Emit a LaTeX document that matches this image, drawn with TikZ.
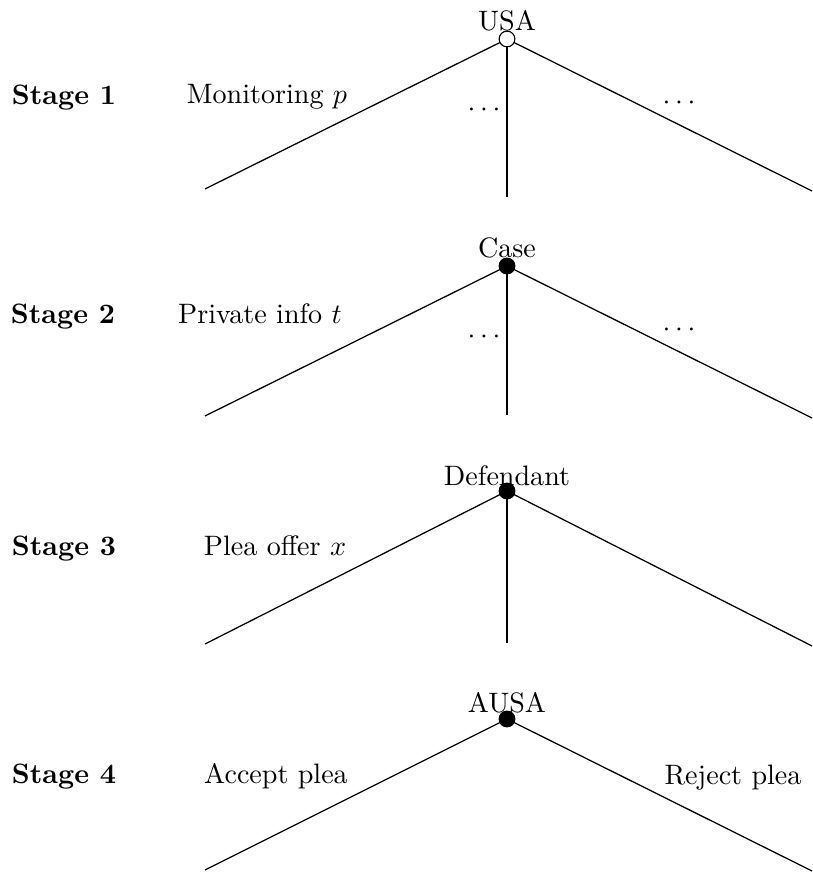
\documentclass[tikz,border=0pt]{standalone}
\begin{document}
\begin{tikzpicture}[x=0.356pt,y=-0.356pt,
  vtx/.style={circle,draw=black,fill=black,inner sep=0pt,minimum size=5.6pt,line width=0.4pt},
  openvtx/.style={vtx,fill=white},
  edge/.style={line width=0.45pt},
  stem/.style={line width=0.85pt},
  lbl/.style={anchor=base,inner sep=0pt},
  stagelbl/.style={anchor=base,inner sep=0pt,font=\bfseries}]
\useasboundingbox (0,0) rectangle (812,872);
% Stage 1
\coordinate (l1) at (205,189);
\coordinate (r1) at (812,191);
\coordinate (m1) at (507,197);
\draw[edge] (507,39) -- (l1);
\draw[edge] (507,39) -- (r1);
\draw[stem] (507,39) -- (m1);
\node[openvtx] (n1) at (507,39) {};
\node[lbl] (t1) at (507,31) {USA};
\node[stagelbl] (s1) at (64,105) {Stage 1};
\node[lbl] (a1) at (267,104) {Monitoring $p$};
\node[lbl] (d1a) at (484,117) {$\cdots$};
\node[lbl] (d1b) at (679,110) {$\cdots$};
% Stage 2
\coordinate (l2) at (205,416);
\coordinate (r2) at (812,418);
\coordinate (m2) at (507,415);
\draw[edge] (507,266) -- (l2);
\draw[edge] (507,266) -- (r2);
\draw[stem] (507,266) -- (m2);
\node[vtx] (n2) at (507,266) {};
\node[lbl] (t2) at (507,258) {Case};
\node[stagelbl] (s2) at (63,324) {Stage 2};
\node[lbl] (a2) at (260,324) {Private info $t$};
\node[lbl] (d2a) at (484,344) {$\cdots$};
\node[lbl] (d2b) at (679,337) {$\cdots$};
% Stage 3
\coordinate (l3) at (205,644);
\coordinate (r3) at (812,646);
\coordinate (m3) at (507,643);
\draw[edge] (507,491) -- (l3);
\draw[edge] (507,491) -- (r3);
\draw[stem] (507,491) -- (m3);
\node[vtx] (n3) at (507,491) {};
\node[lbl] (t3) at (507,485) {Defendant};
\node[stagelbl] (s3) at (64,555) {Stage 3};
\node[lbl] (a3) at (275,555) {Plea offer $x$};
% Stage 4
\coordinate (l4) at (205,870);
\coordinate (r4) at (812,871);
\draw[edge] (507,719) -- (l4);
\draw[edge] (507,719) -- (r4);
\node[vtx] (n4) at (507,719) {};
\node[lbl] (t4) at (507,712) {AUSA};
\node[stagelbl] (s4) at (64,783) {Stage 4};
\node[lbl] (a4) at (276,783) {Accept plea};
\node[lbl] (b4) at (733,784) {Reject plea};
\end{tikzpicture}
\end{document}
